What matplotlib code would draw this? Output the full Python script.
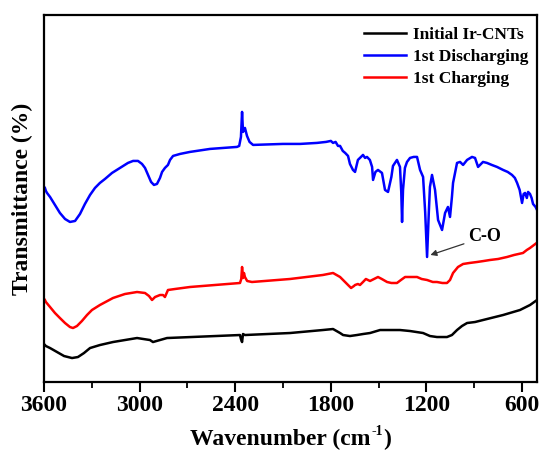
import matplotlib
matplotlib.use("Agg")
import matplotlib.pyplot as plt
from matplotlib.ticker import MultipleLocator

plt.rcParams['font.family'] = ['Liberation Serif', 'DejaVu Serif']
plt.rcParams['font.weight'] = 'bold'

# (wavenumber cm-1, transmittance arb. units)
blue_pts = [(3594, 194), (3588, 191), (3581, 189), (3562, 185), (3531, 177), (3500, 169),
            (3468, 163), (3437, 160), (3405, 161), (3374, 168), (3343, 178), (3311, 187),
            (3280, 194), (3249, 199), (3217, 203), (3173, 209), (3123, 214), (3073, 219),
            (3041, 221), (3010, 221), (2985, 218), (2966, 214), (2947, 207), (2928, 200),
            (2910, 197), (2891, 198), (2872, 204), (2859, 210), (2841, 214), (2822, 217),
            (2809, 222), (2790, 226), (2746, 228), (2684, 230), (2558, 233), (2389, 235),
            (2375, 236), (2364, 245), (2357, 270), (2351, 250), (2345, 252), (2339, 254),
            (2326, 246), (2310, 240), (2288, 237), (2100, 238), (1993, 238), (1887, 239),
            (1830, 240), (1800, 241), (1786, 239), (1770, 240), (1755, 236), (1742, 236),
            (1725, 231), (1710, 229), (1692, 226), (1680, 218), (1661, 212), (1648, 210),
            (1630, 222), (1598, 227), (1585, 224), (1573, 225), (1555, 222), (1541, 215),
            (1535, 202), (1520, 210), (1504, 212), (1479, 209), (1460, 192), (1441, 190),
            (1420, 205), (1410, 216), (1385, 222), (1366, 215), (1358, 190), (1353, 160),
            (1347, 192), (1335, 214), (1322, 220), (1303, 224), (1280, 225), (1259, 225),
            (1240, 212), (1221, 205), (1208, 170), (1196, 125), (1185, 170), (1178, 195),
            (1165, 207), (1146, 192), (1127, 162), (1102, 152), (1083, 169), (1065, 175),
            (1052, 165), (1040, 185), (1033, 199), (1008, 219), (989, 220), (970, 217),
            (945, 222), (914, 225), (895, 224), (876, 215), (845, 220), (820, 219),
            (790, 217), (757, 215), (719, 212), (690, 210), (663, 207), (645, 204),
            (631, 199), (615, 192), (600, 179), (590, 188), (581, 189), (570, 184),
            (562, 190), (550, 188), (540, 184), (531, 178), (515, 175), (506, 172)]

red_pts = [(3594, 82), (3588, 80), (3562, 75), (3531, 69), (3500, 64), (3468, 59),
           (3437, 55), (3418, 54), (3393, 56), (3362, 61), (3330, 67), (3299, 72),
           (3249, 77), (3167, 84), (3092, 88), (3016, 90), (2966, 89), (2941, 86),
           (2922, 82), (2903, 85), (2872, 87), (2853, 87), (2841, 85), (2822, 92),
           (2778, 93), (2684, 95), (2370, 99), (2362, 103), (2357, 115), (2351, 104),
           (2345, 109), (2339, 105), (2325, 101), (2295, 100), (2056, 103), (1850, 107),
           (1786, 109), (1742, 105), (1717, 101), (1692, 97), (1673, 94), (1655, 96),
           (1648, 97), (1630, 98), (1617, 97), (1598, 100), (1580, 103), (1554, 101),
           (1504, 105), (1480, 103), (1447, 100), (1420, 99), (1385, 99), (1360, 102),
           (1334, 105), (1300, 105), (1259, 105), (1230, 103), (1196, 102), (1160, 100),
           (1134, 100), (1100, 99), (1071, 99), (1052, 102), (1033, 109), (1002, 115),
           (970, 118), (930, 119), (882, 120), (840, 121), (801, 122), (750, 123),
           (694, 125), (650, 127), (594, 129), (570, 132), (550, 134), (525, 137),
           (500, 140)]

black_pts = [(3594, 37), (3588, 36), (3562, 34), (3518, 30), (3474, 26), (3424, 24),
             (3387, 25), (3349, 29), (3311, 34), (3249, 37), (3167, 40), (3092, 42),
             (3016, 44), (2935, 42), (2916, 40), (2872, 42), (2828, 44), (2370, 47),
             (2364, 43), (2357, 40), (2351, 48), (2339, 47), (2056, 49), (1850, 52),
             (1786, 53), (1742, 49), (1723, 47), (1680, 46), (1636, 47), (1598, 48),
             (1554, 49), (1491, 52), (1366, 52), (1303, 51), (1221, 49), (1178, 46),
             (1134, 45), (1071, 45), (1040, 47), (1008, 52), (977, 56), (945, 59),
             (895, 60), (845, 62), (719, 67), (613, 72), (550, 77), (506, 82)]

blue_w, blue_t = zip(*blue_pts)
red_w, red_t = zip(*red_pts)
black_w, black_t = zip(*black_pts)

labels = ['Initial Ir-CNTs', '1st Discharging', '1st Charging']

fig = plt.figure(figsize=(5.43, 4.5), dpi=100)
ax = fig.add_axes([0.081, 0.151, 0.908, 0.816])

ax.plot(black_w, black_t, color='black', lw=1.8, label=labels[0])
ax.plot(blue_w, blue_t, color='#0000ff', lw=1.8, label=labels[1])
ax.plot(red_w, red_t, color='#ff0000', lw=1.8, label=labels[2])

ax.set_xlim(3600, 506)
ax.set_ylim(0, 367)
ax.xaxis.set_major_locator(MultipleLocator(600))
ax.xaxis.set_minor_locator(MultipleLocator(300))
ax.set_yticks([])
ax.tick_params(axis='x', which='major', direction='out', length=7, width=1.5,
               labelsize=17, pad=2)
ax.tick_params(axis='x', which='minor', direction='out', length=4, width=1.3)
for lab in ax.get_xticklabels():
    lab.set_fontweight('bold')
for s in ax.spines.values():
    s.set_linewidth(1.6)

ax.set_ylabel('Transmittance (%)', fontsize=17, fontweight='bold', labelpad=8)

# x label with a small superscript, built from three text pieces
fig.canvas.draw()
r = fig.canvas.get_renderer()
ylab = 0.012
parts = [('Wavenumber (cm', 17, 0.0), ('-1', 10, 0.022), (')', 17, 0.0)]
objs = []
for s, fs, dy in parts:
    t = fig.text(0, ylab + dy, s, fontsize=fs, fontweight='bold', ha='left', va='baseline')
    objs.append(t)
widths = [t.get_window_extent(renderer=r).width for t in objs]
total = sum(widths) + 1
cx = (0.081 + 0.908 / 2) * fig.bbox.width
x0 = cx - total / 2
for t, w in zip(objs, widths):
    t.set_x(x0 / fig.bbox.width)
    x0 += w + 0.5

leg = ax.legend(loc='upper right', frameon=False, fontsize=12.5, handlelength=2.4,
                handletextpad=0.4, labelspacing=0.32, borderaxespad=0.05, borderpad=0.45,
                bbox_to_anchor=(1.0, 0.99))
for t in leg.get_texts():
    t.set_fontweight('bold')

ax.annotate('C-O', xy=(1175, 127), xytext=(939, 145), fontsize=13, fontweight='bold',
            va='center', ha='left',
            arrowprops=dict(arrowstyle='-|>', color='#333333', lw=0.9,
                            shrinkA=1, shrinkB=0, mutation_scale=9))

fig.savefig('out.png', dpi=100)
